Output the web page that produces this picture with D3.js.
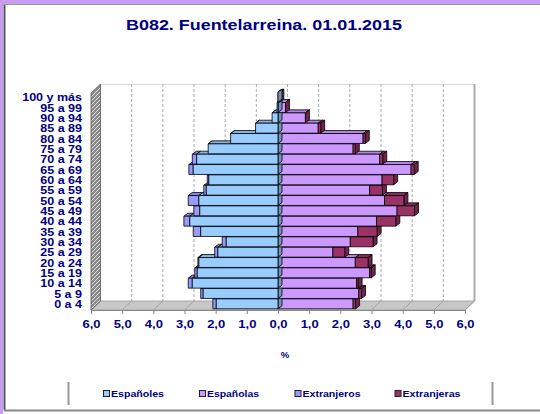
<!DOCTYPE html>
<html><head><meta charset="utf-8">
<script src="https://cdn.jsdelivr.net/npm/d3@7"></script>
<style>body{margin:0;background:#fff}svg{display:block}</style>
</head><body><svg id="c" width="540" height="414"></svg>
<script>
const ageGroups = ["0 a 4","5 a 9","10 a 14","15 a 19","20 a 24","25 a 29","30 a 34","35 a 39","40 a 44","45 a 49","50 a 54","55 a 59","60 a 64","65 a 69","70 a 74","75 a 79","80 a 84","85 a 89","90 a 94","95 a 99","100 y más"];
const espanoles   = [1.98,2.40,2.75,2.59,2.54,1.93,1.66,2.48,2.83,2.51,2.54,2.30,2.22,2.72,2.61,2.24,1.52,0.72,0.19,0.03,0.00];
const extranjeros = [0.11,0.08,0.13,0.08,0.03,0.10,0.13,0.24,0.19,0.19,0.34,0.08,0.05,0.14,0.14,0.00,0.00,0.00,0.00,0.00,0.00];
const espanolas   = [2.41,2.59,2.52,2.94,2.48,1.76,2.32,2.56,3.16,3.82,3.42,2.94,3.34,4.27,3.26,2.41,2.73,1.29,0.88,0.24,0.06];
const extranjeras = [0.08,0.09,0.05,0.05,0.41,0.38,0.73,0.62,0.62,0.56,0.62,0.41,0.37,0.10,0.10,0.07,0.07,0.08,0.00,0.00,0.00];
const xTicks = [-6,-5,-4,-3,-2,-1,0,1,2,3,4,5,6];
const legendNames = ["Españoles","Españolas","Extranjeros","Extranjeras"];
const legendColors = ["#99ccff","#cc99ff","#9999ff","#993366"];
const titleText = "B082. Fuentelarreina. 01.01.2015";

const NAVY = "#000080";
const FONT = "Liberation Sans, Arial, sans-serif";
const svg = d3.select("#c");
const defs = svg.append("defs");
const pat = defs.append("pattern").attr("id","hatch").attr("patternUnits","userSpaceOnUse")
  .attr("width",4).attr("height",4);
pat.append("rect").attr("width",4).attr("height",4).attr("fill","#8c8c8c");
pat.append("path").attr("d","M-1,5 L5,-1").attr("stroke","#e8e8e8").attr("stroke-width",0.9);

function stretch(sel, k){
  sel.each(function(){ const L = this.getComputedTextLength();
    d3.select(this).attr("textLength", L*k).attr("lengthAdjust","spacingAndGlyphs"); });
}

// outer frame
svg.append("rect").attr("x",0).attr("y",0).attr("width",540).attr("height",4).attr("fill","#c79cf2");
svg.append("rect").attr("x",0).attr("y",0).attr("width",3).attr("height",414).attr("fill","#c79cf2");
svg.append("line").attr("x1",4.5).attr("x2",4.5).attr("y1",4).attr("y2",410).attr("stroke","#555").attr("stroke-width",2);
svg.append("line").attr("x1",4).attr("x2",540).attr("y1",4.5).attr("y2",4.5).attr("stroke","#999").attr("stroke-width",1);
svg.append("line").attr("x1",4).attr("x2",540).attr("y1",410.5).attr("y2",410.5).attr("stroke","#888").attr("stroke-width",2);

// title
svg.append("text").attr("x",264).attr("y",29.5).attr("text-anchor","middle")
  .attr("font-family",FONT).attr("font-weight","bold")
  .attr("font-size",15).attr("fill",NAVY)
  .attr("textLength",276).attr("lengthAdjust","spacingAndGlyphs").text(titleText);

const x = d3.scaleLinear().domain([-6,6]).range([91,465]);
const y = d3.scaleBand().domain(ageGroups).range([309,92]).paddingInner(0.04).paddingOuter(0.02);
const DX = 9.5, DY = 9;          // wall depth
const bdx = 4, bdy = 3;          // bar depth
const yFrontTop = 93, yFrontBot = 310;

// back wall
const g = svg.append("g");
g.append("rect").attr("x",x(-6)+DX).attr("y",yFrontTop-DY).attr("width",x(6)-x(-6)).attr("height",yFrontBot-yFrontTop)
  .attr("fill","#fff");
g.append("line").attr("x1",x(-6)+DX).attr("x2",x(6)+DX).attr("y1",yFrontTop-DY+0.5).attr("y2",yFrontTop-DY+0.5)
  .attr("stroke","#ddd");
xTicks.filter(v=>Math.abs(v)<6).forEach(v=>{
  g.append("line").attr("x1",x(v)+DX).attr("x2",x(v)+DX).attr("y1",yFrontTop-DY).attr("y2",yFrontBot-DY)
    .attr("stroke","#aaa").attr("stroke-dasharray","3,2");
});
g.append("line").attr("x1",x(6)+DX).attr("x2",x(6)+DX).attr("y1",yFrontTop-DY).attr("y2",yFrontBot-DY)
  .attr("stroke","#aaa").attr("stroke-width",2);
// floor
g.append("polygon").attr("points",[[x(-6),yFrontBot],[x(6),yFrontBot],[x(6)+DX,yFrontBot-DY],[x(-6)+DX,yFrontBot-DY]].join(" "))
  .attr("fill","#c8c8c8").attr("stroke","#999").attr("stroke-width",0.8);
xTicks.forEach(v=>{
  g.append("line").attr("x1",x(v)+DX).attr("x2",x(v)).attr("y1",yFrontBot-DY).attr("y2",yFrontBot)
    .attr("stroke","#999").attr("stroke-width",0.8);
});
// left wall
g.append("polygon").attr("points",[[x(-6),yFrontTop],[x(-6)+DX,yFrontTop-DY],[x(-6)+DX,yFrontBot-DY],[x(-6),yFrontBot]].join(" "))
  .attr("fill","url(#hatch)").attr("stroke","#555").attr("stroke-width",0.8);

// bars
const bars = svg.append("g").attr("stroke","#000").attr("stroke-width",0.8).attr("stroke-linejoin","round");
function box(xa, xb, yt, h, color, top, right){
  const x0 = Math.min(xa,xb), x1 = Math.max(xa,xb);
  const c = d3.color(color);
  if (top) bars.append("polygon").attr("points",[[x0,yt],[x0+bdx,yt-bdy],[x1+bdx,yt-bdy],[x1,yt]].join(" "))
    .attr("fill",c.darker(0.35));
  if (right) bars.append("polygon").attr("points",[[x1,yt],[x1+bdx,yt-bdy],[x1+bdx,yt-bdy+h],[x1,yt+h]].join(" "))
    .attr("fill",c.darker(0.9));
  bars.append("rect").attr("x",x0).attr("y",yt).attr("width",x1-x0).attr("height",h).attr("fill",color);
}
const h = y.bandwidth();
ageGroups.forEach((a,i)=>{
  const yt = y(a);
  const f1 = espanolas[i], f2 = extranjeras[i];
  box(x(0), x(f1), yt, h, legendColors[1], true, false);
  box(x(f1), x(f1+f2), yt, h, legendColors[3], true, true);
  const m1 = espanoles[i], m2 = extranjeros[i];
  box(x(-m1-m2), x(-m1), yt, h, legendColors[2], true, false);
  box(x(-m1), x(0), yt, h, legendColors[0], true, true);
});

// x axis
const xa = svg.append("g").attr("transform",`translate(0,${yFrontBot})`)
  .call(d3.axisBottom(x).tickValues(xTicks).tickSize(4).tickPadding(7)
    .tickFormat(d=>Math.abs(d).toFixed(1).replace(".",",")));
xa.select(".domain").attr("stroke","#888");
xa.selectAll(".tick line").attr("stroke","#888");
xa.selectAll("text").attr("font-family",FONT).attr("font-weight","bold")
  .attr("font-size",10).attr("fill",NAVY);
stretch(xa.selectAll("text"), 1.3);

// y labels
const ya = svg.append("g").attr("transform","translate(82,0)")
  .call(d3.axisLeft(y).tickSize(0).tickPadding(0));
ya.select(".domain").remove();
ya.selectAll("text").attr("font-family",FONT).attr("font-weight","bold")
  .attr("font-size",10).attr("fill",NAVY).attr("dy","0.4em");
stretch(ya.selectAll("text"), 1.25);

// % label
svg.append("text").attr("x",285).attr("y",358).attr("text-anchor","middle")
  .attr("font-family",FONT).attr("font-weight","bold")
  .attr("font-size",9.5).attr("fill",NAVY).text("%");

// legend
svg.append("line").attr("x1",68.5).attr("x2",68.5).attr("y1",382).attr("y2",405).attr("stroke","#999").attr("stroke-width",2);
svg.append("line").attr("x1",492.5).attr("x2",492.5).attr("y1",382).attr("y2",405).attr("stroke","#999").attr("stroke-width",2);
const legX = [103.5,199.5,295,395];
const legW = [53,52,58,58];
legendNames.forEach((n,i)=>{
  svg.append("rect").attr("x",legX[i]).attr("y",390.5).attr("width",6).attr("height",6)
    .attr("fill",legendColors[i]).attr("stroke","#222").attr("stroke-width",1);
  svg.append("text").attr("x",legX[i]+7.5).attr("y",396.5)
    .attr("font-family",FONT).attr("font-weight","bold")
    .attr("font-size",8.5).attr("fill",NAVY)
    .attr("textLength",legW[i]).attr("lengthAdjust","spacingAndGlyphs").text(n);
});
</script></body></html>
